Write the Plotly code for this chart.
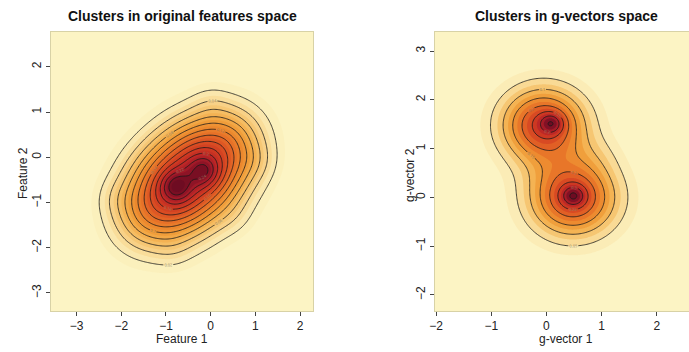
import numpy as np
import plotly.graph_objects as go

# ---------------- data (mixture components) ----------------
# Left panel: "Clusters in original features space"
# components: positions along the main diagonal (t) and across it (s), relative to the centre
left_cx, left_cy, left_axis_deg = -0.50, -0.47, 42
left_t = [-1.30, -0.65, -0.65, 0.00, 0.00, 0.65, 0.65, 1.30, -0.33, 0.37]
left_s = [0.00, 0.40, -0.40, 0.42, -0.42, 0.40, -0.40, 0.00, 0.05, -0.11]
left_sig = [0.57, 0.57, 0.57, 0.57, 0.57, 0.57, 0.57, 0.57, 0.24, 0.24]
left_w = [0.128, 0.130, 0.130, 0.130, 0.130, 0.130, 0.130, 0.137, 0.019, 0.016]
# small irregularities of the outline (absolute positions)
left_wob_x = [1.05, 0.00, -2.15, -0.85, 0.55]
left_wob_y = [-0.10, 1.20, -0.90, -2.10, -1.35]
left_wob_w = [0.006, 0.005, 0.005, 0.004, 0.004]

# Right panel: "Clusters in g-vectors space"
right_mx = [-0.05, 0.48, 0.10, 0.49, 0.95]
right_my = [1.48, 0.00, 1.52, 0.03, 0.85]
right_sig = [0.53, 0.55, 0.15, 0.15, 0.30]
right_w = [0.46, 0.49, 0.014, 0.014, 0.010]

left_xrange = [-3.58, 2.29]
left_yrange = [-3.40, 2.77]
right_xrange = [-2.02, 2.585]
right_yrange = [-2.33, 3.39]

left_ticks_x = [-3, -2, -1, 0, 1, 2]
left_ticks_y = [-3, -2, -1, 0, 1, 2]
right_ticks_x = [-2, -1, 0, 1, 2]
right_ticks_y = [-2, -1, 0, 1, 2, 3]


def gauss_sum(X, Y, mx, my, sig, w):
    Z = np.zeros_like(X)
    for cx, cy, s, wt in zip(mx, my, sig, w):
        Z += wt / (2 * np.pi * s * s) * np.exp(-0.5 * ((X - cx) ** 2 + (Y - cy) ** 2) / s ** 2)
    return Z


th = np.deg2rad(left_axis_deg)
left_mx = [left_cx + t * np.cos(th) - s * np.sin(th) for t, s in zip(left_t, left_s)]
left_my = [left_cy + t * np.sin(th) + s * np.cos(th) for t, s in zip(left_t, left_s)]

lx = np.linspace(left_xrange[0], left_xrange[1], 220)
ly = np.linspace(left_yrange[0], left_yrange[1], 220)
LX, LY = np.meshgrid(lx, ly)
lz = gauss_sum(LX, LY, left_mx, left_my, left_sig, left_w)
lz += gauss_sum(LX, LY, left_wob_x, left_wob_y, [0.30] * len(left_wob_w), left_wob_w)

rx = np.linspace(right_xrange[0], right_xrange[1], 220)
ry = np.linspace(right_yrange[0], right_yrange[1], 220)
RX, RY = np.meshgrid(rx, ry)
rz = gauss_sum(RX, RY, right_mx, right_my, right_sig, right_w)

heat = [
    [0.00, '#FCF4C4'], [0.08, '#FAE3A6'], [0.17, '#F7CB7B'], [0.26, '#F4B556'],
    [0.35, '#F09E3B'], [0.44, '#EC872E'], [0.53, '#E66E27'], [0.62, '#DC5223'],
    [0.72, '#CF3A22'], [0.82, '#BB2626'], [0.91, '#9C1828'], [1.00, '#6E0C22'],
]
black = [[0, '#1a1a1a'], [1, '#1a1a1a']]

fig = go.Figure()


def add_panel(xs, ys, z, fstep, lstep, top, xa, ya):
    fig.add_trace(go.Contour(
        x=xs, y=ys, z=z, xaxis=xa, yaxis=ya, colorscale=heat,
        zmin=0, zmax=top, showscale=False, hoverinfo='skip',
        contours=dict(coloring='fill', start=fstep, end=top, size=fstep, showlines=False),
        line=dict(width=0),
    ))
    fig.add_trace(go.Contour(
        x=xs, y=ys, z=z, xaxis=xa, yaxis=ya, colorscale=black,
        showscale=False, hoverinfo='skip',
        contours=dict(coloring='lines', start=lstep, end=top, size=lstep,
                      showlabels=True, labelfont=dict(size=4, color='#8a7a60')),
        line=dict(width=0.8, smoothing=1),
    ))


add_panel(lx, ly, lz, 0.01, 0.02, 0.25, 'x', 'y')
add_panel(rx, ry, rz, 0.025, 0.05, 0.36, 'x2', 'y2')

axis_common = dict(showgrid=False, zeroline=False, ticks='outside', ticklen=4,
                   tickcolor='#444', tickwidth=1, automargin=False,
                   tickfont=dict(family='Liberation Sans, Arial', size=12, color='#222'),
                   showline=True, mirror=True, linecolor='#D8D2A6', linewidth=1)

W, H = 689, 352


def px(x):
    return x / W


def py(y):
    return 1 - y / H


fig.update_layout(
    width=W, height=H, margin=dict(l=0, r=0, t=0, b=0, pad=0),
    paper_bgcolor='white', plot_bgcolor='#FCF4C4', showlegend=False,
    xaxis=dict(domain=[px(50.7), px(313)], range=left_xrange, tickvals=left_ticks_x,
               anchor='y', **axis_common),
    yaxis=dict(domain=[py(311), py(32)], range=left_yrange, tickvals=left_ticks_y, tickangle=-90,
               anchor='x', **axis_common),
    xaxis2=dict(domain=[px(435), 1.0], range=right_xrange, tickvals=right_ticks_x,
                anchor='y2', **axis_common),
    yaxis2=dict(domain=[py(311), py(32)], range=right_yrange, tickvals=right_ticks_y, tickangle=-90,
                anchor='x2', **axis_common),
)

ann_font = dict(family='Liberation Sans, Arial', size=12, color='#222')
title_font = dict(family='Liberation Sans, Arial', size=14, color='#111')
annots = [
    dict(text='<b>Clusters in original features space</b>', x=px(182), y=py(15.7), font=title_font),
    dict(text='<b>Clusters in g-vectors space</b>', x=px(566), y=py(15.7), font=title_font),
    dict(text='Feature 1', x=px(182), y=py(339), font=ann_font),
    dict(text='g-vector 1', x=px(566), y=py(339), font=ann_font),
    dict(text='Feature 2', x=px(23), y=py(173), font=ann_font, textangle=-90),
    dict(text='g-vector 2', x=px(410), y=py(175), font=ann_font, textangle=-90),
]
for a in annots:
    fig.add_annotation(xref='paper', yref='paper', showarrow=False,
                       xanchor='center', yanchor='middle', **a)

fig.write_html('out.html', config={'displayModeBar': False},
               post_script="document.body.style.margin='0';document.body.style.overflow='hidden';")
